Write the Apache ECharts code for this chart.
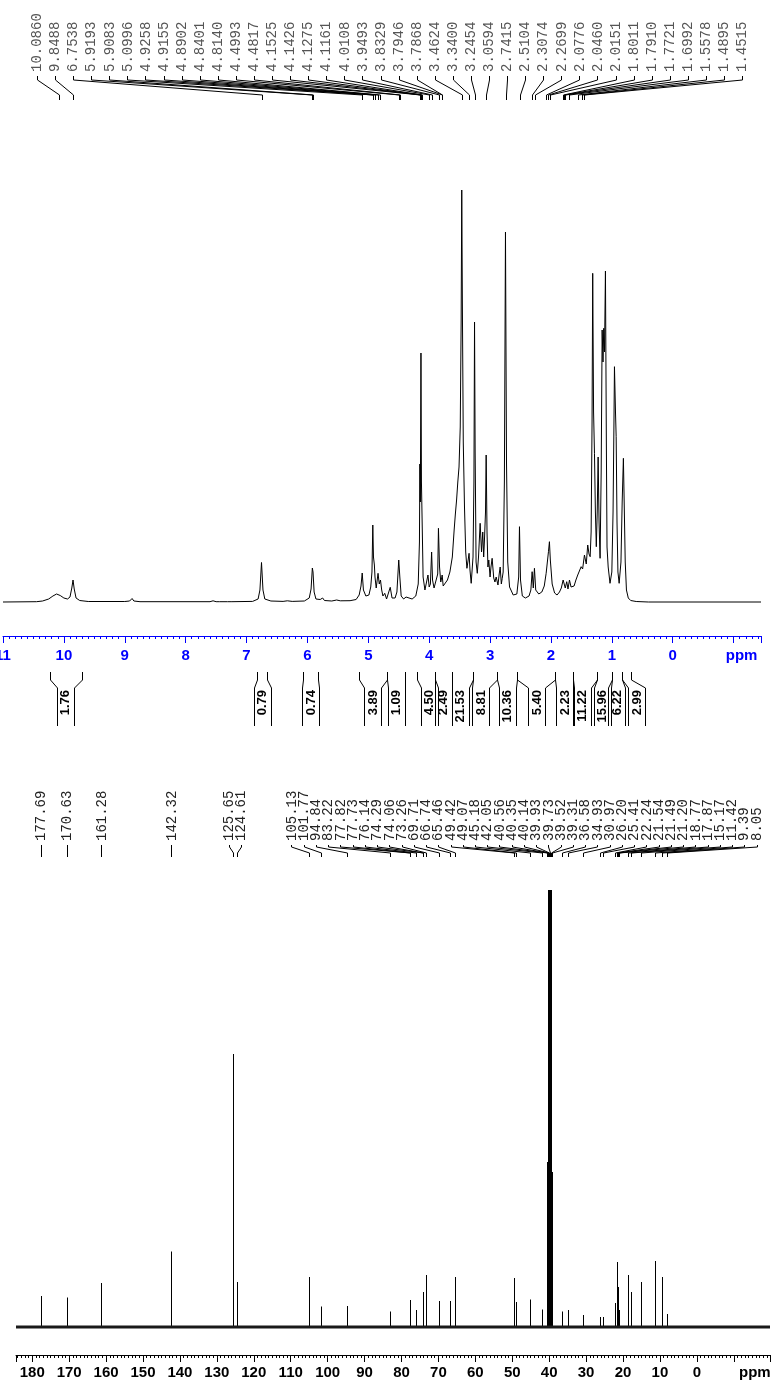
<!DOCTYPE html>
<html><head><meta charset="utf-8">
<script src="https://cdn.jsdelivr.net/npm/echarts@6/dist/echarts.min.js"></script>
<style>html,body{margin:0;padding:0;background:#fff}#c{width:772px;height:1384px}</style>
</head><body><div id="c"></div>
<script>
// ---------- DATA ----------
const H1_PEAK_LABELS = ['10.0860','9.8488','6.7538','5.9193','5.9083','5.0996','4.9258','4.9155','4.8902','4.8401','4.8140','4.4993','4.4817','4.1525','4.1426','4.1275','4.1161','4.0108','3.9493','3.8329','3.7946','3.7868','3.4624','3.3400','3.2454','3.0594','2.7415','2.5104','2.3074','2.2699','2.0776','2.0460','2.0151','1.8011','1.7910','1.7721','1.6992','1.5578','1.4895','1.4515'];

const H1_INT_VALUES = ['1.76','0.79','0.74','3.89','1.09','4.50','2.49','21.53','8.81','10.36','5.40','2.23','11.22','15.96','6.22','2.99'];
const H1_INT_FROM   = [10.23, 6.82, 6.07, 5.16, 4.69, 4.20, 3.90, 3.62, 3.28, 2.89, 2.56, 1.93, 1.64, 1.25, 1.00, 0.84];
const H1_INT_TO     = [ 9.70, 6.67, 5.82, 4.69, 4.39, 3.90, 3.62, 3.28, 2.89, 2.56, 1.93, 1.64, 1.25, 1.00, 0.84, 0.69];
const H1_INT_LABEL  = [ 9.98, 6.74, 5.95, 4.93, 4.54, 4.00, 3.77, 3.49, 3.15, 2.72, 2.23, 1.77, 1.49, 1.16, 0.92, 0.59];

// 1H trace: [ppm, intensity]
const H1_SPECTRUM = [[11.0,0],[10.45,0.3],[10.35,1],[10.25,3],[10.18,6],[10.12,8],[10.06,6.5],[10.0,4],[9.94,3],[9.90,5],[9.87,14],[9.85,22],[9.83,13],[9.80,4],[9.74,1.5],[9.6,0.5],[9.0,0.5],[8.92,1],[8.88,3.5],[8.85,1],[8.75,0.3],[7.6,0.3],[7.55,1.2],[7.5,0.3],[7.44,0.3],[7.41,1.2],[7.37,0.3],[7.31,0.3],[7.28,1.2],[7.24,0.3],[6.9,0.6],[6.81,3],[6.78,12],[6.754,39.5],[6.73,12],[6.70,3],[6.6,1],[6.4,0.6],[6.33,1.2],[6.25,0.6],[6.05,1],[5.97,4],[5.94,13],[5.919,34],[5.908,30],[5.89,10],[5.86,3],[5.79,2.5],[5.75,4],[5.72,1.5],[5.6,1],[5.52,2],[5.49,2.6],[5.46,1.2],[5.3,1.3],[5.2,2.5],[5.15,7],[5.12,16],[5.10,29],[5.08,12],[5.04,6],[4.99,7],[4.96,15],[4.94,30],[4.926,77],[4.915,45],[4.90,37],[4.89,25],[4.87,14],[4.84,28.7],[4.82,18],[4.80,22],[4.78,12],[4.76,6],[4.73,8.7],[4.70,3],[4.67,4],[4.64,14.7],[4.61,4],[4.56,4],[4.53,10],[4.50,42],[4.482,25],[4.46,6],[4.42,3],[4.38,5],[4.35,3],[4.28,3],[4.22,6],[4.18,18],[4.16,60],[4.153,138],[4.145,100],[4.135,249],[4.127,120],[4.116,82],[4.10,25],[4.07,12],[4.04,12],[4.02,27],[4.00,15],[3.98,18],[3.96,50],[3.945,22],[3.92,14],[3.89,16],[3.86,28],[3.848,73.7],[3.83,35],[3.81,20],[3.795,24],[3.787,27],[3.77,16],[3.74,16],[3.70,22],[3.66,30],[3.62,45],[3.59,72],[3.57,88],[3.55,102],[3.53,120],[3.51,135],[3.49,175],[3.475,280],[3.465,412],[3.455,300],[3.44,160],[3.42,95],[3.40,50],[3.38,33.7],[3.36,42],[3.345,48.7],[3.33,32],[3.31,18.7],[3.28,45],[3.265,120],[3.255,280],[3.245,150],[3.23,40],[3.21,28.7],[3.19,45],[3.163,78.7],[3.14,50],[3.12,70],[3.105,45],[3.092,62],[3.075,90],[3.064,147],[3.05,70],[3.035,35],[3.021,42],[3.00,25],[2.985,35],[2.966,43.7],[2.94,24],[2.92,20],[2.90,25],[2.87,17],[2.85,28],[2.834,35],[2.815,18],[2.80,23.7],[2.785,30],[2.765,120],[2.747,370],[2.73,140],[2.71,40],[2.68,15],[2.62,7],[2.56,8],[2.53,25],[2.517,75.3],[2.50,22],[2.47,6],[2.42,4],[2.36,6],[2.33,12],[2.309,30.3],[2.29,14],[2.271,33.7],[2.25,12],[2.20,8],[2.15,10],[2.11,16],[2.079,28.7],[2.06,30],[2.041,50.3],[2.025,60.3],[2.01,42],[1.98,18],[1.94,9],[1.90,7],[1.86,10],[1.83,14],[1.80,22],[1.79,23.7],[1.765,14],[1.741,20.3],[1.72,13],[1.696,22],[1.67,15],[1.642,13.7],[1.62,16],[1.59,22],[1.56,27],[1.53,26],[1.504,35.3],[1.48,33],[1.45,47],[1.42,38],[1.396,57],[1.375,48],[1.356,45.3],[1.34,70],[1.325,180],[1.314,328.7],[1.30,190],[1.285,148.7],[1.27,90],[1.255,55.3],[1.24,90],[1.225,145],[1.21,80],[1.193,43.7],[1.175,130],[1.159,272],[1.145,240],[1.133,273.7],[1.12,250],[1.105,331],[1.09,160],[1.079,55],[1.06,35],[1.03,18.7],[1.00,30],[0.98,90],[0.965,180],[0.957,235.3],[0.94,190],[0.929,165.3],[0.915,80],[0.90,30],[0.88,18.7],[0.85,40],[0.83,100],[0.81,143.7],[0.793,85],[0.78,40],[0.76,12],[0.73,4],[0.69,1.5],[0.6,0.5],[0.4,0],[-1.45,0]];

const C13_PEAK_LABELS = ['177.69','170.63','161.28','142.32','125.65','124.61','105.13','101.77','94.84','83.22','77.82','77.73','76.14','74.29','74.06','73.26','69.71','66.74','65.46','49.42','49.07','45.18','42.05','40.56','40.35','40.14','39.93','39.73','39.52','39.31','36.58','34.93','30.97','26.20','25.41','22.24','21.54','21.49','21.20','18.77','17.87','15.17','11.42','9.39','8.05'];
const C13_HEIGHTS = [31,29.5,44,75.5,273,45,50,20.5,21,15.5,27,22,17,14,35,52,26,26,50,49,25,27.5,17.5,165,450,900,1050,1050,900,155,15.5,17,12,10,10,24,65,40,17,52,35,45,66,50,13];

const H1_RANGE = [-1.45, 11];
const C13_RANGE = [-19.8, 184.4];

// ---------- LAYOUT HELPERS ----------
function spread(desired, gap, lo, hi) {
  let cl = desired.map(d => ({n: 1, sum: d}));
  const left = c => {
    let l = c.sum / c.n - (c.n - 1) * gap / 2;
    l = Math.min(l, hi - (c.n - 1) * gap);
    l = Math.max(l, lo);
    return l;
  };
  let merged = true;
  while (merged) {
    merged = false;
    for (let i = 0; i < cl.length - 1; i++) {
      const a = cl[i], b = cl[i + 1];
      if (left(a) + a.n * gap > left(b) + 1e-6) {
        cl.splice(i, 2, {n: a.n + b.n, sum: a.sum + b.sum});
        merged = true; break;
      }
    }
  }
  const out = [];
  cl.forEach(c => { const l = left(c); for (let k = 0; k < c.n; k++) out.push(l + k * gap); });
  return out;
}
const crisp = v => Math.round(v) + 0.5;

function peakLabelSeries(axisIdx, labels, cfg) {
  return {
    type: 'custom', xAxisIndex: axisIdx, yAxisIndex: axisIdx, clip: false, silent: true, z: 10,
    data: labels.map(s => [parseFloat(s), 0]),
    encode: {x: 0, y: 1},
    renderItem(params, api) {
      const desired = labels.map(s => api.coord([parseFloat(s), 0])[0]);
      const slots = spread(desired, cfg.gap, cfg.lo, cfg.hi);
      const i = params.dataIndex;
      const sx = crisp(slots[i]), px = crisp(desired[i]);
      return {type: 'group', children: [
        {type: 'text', x: slots[i] + 0.5, y: cfg.textY, rotation: Math.PI / 2,
          style: {text: labels[i], font: cfg.font, fill: cfg.color,
            align: 'left', verticalAlign: 'middle', textAlign: 'left', textVerticalAlign: 'middle'}},
        {type: 'polyline', shape: {points: [[sx, cfg.y0], [sx, cfg.y1], [px, cfg.y2], [px, cfg.y3]]},
          style: {stroke: '#000', lineWidth: 1, fill: null}}
      ]};
    }
  };
}

function axisCfg(idx, range, color, offset, margin, ppmPad) {
  return {
    type: 'value', gridIndex: idx, inverse: true, min: range[0], max: range[1],
    minInterval: idx === 0 ? 1 : 10, maxInterval: idx === 0 ? 1 : 10,
    position: 'bottom', offset: offset,
    axisLine: {show: true, onZero: false, lineStyle: {color: color, width: 1}},
    axisTick: {show: true, length: 7, lineStyle: {color: color, width: 1}},
    minorTick: {show: true, splitNumber: 10, length: 3, lineStyle: {color: color, width: 1}},
    splitLine: {show: false}, minorSplitLine: {show: false},
    axisLabel: {
      show: true, margin: margin, color: color, fontWeight: 'bold', fontSize: 15,
      fontFamily: '"Liberation Sans", Arial, sans-serif', showMinLabel: true, showMaxLabel: true,
      formatter: v => {
        const r = Math.round(v);
        if (Math.abs(v - r) > 1e-6) return '';
        if (r === (idx === 0 ? -1 : -10)) return '{p|ppm}';
        return String(r);
      },
      rich: {p: {color: color, fontWeight: 'bold', fontSize: 15,
        fontFamily: '"Liberation Sans", Arial, sans-serif', padding: [0, 0, 0, ppmPad]}}
    }
  };
}

const chart = echarts.init(document.getElementById('c'), null, {renderer: 'canvas'});
chart.setOption({
  animation: false,
  backgroundColor: '#ffffff',
  grid: [
    {left: 3, width: 758, top: 190, height: 416, containLabel: false, outerBoundsMode: 'none'},
    {left: 16, width: 754, top: 890, height: 442, containLabel: false, outerBoundsMode: 'none'}
  ],
  xAxis: [
    axisCfg(0, H1_RANGE, '#0000ff', 30, 12, 16),
    axisCfg(1, C13_RANGE, '#000000', 23, 10, 42)
  ],
  yAxis: [
    {type: 'value', gridIndex: 0, min: -4, max: 412, show: false},
    {type: 'value', gridIndex: 1, min: -5, max: 437, show: false}
  ],
  series: [
    {type: 'line', xAxisIndex: 0, yAxisIndex: 0, data: H1_SPECTRUM, showSymbol: false, symbol: 'none',
      lineStyle: {color: '#000', width: 1}, silent: true, clip: false},
    peakLabelSeries(0, H1_PEAK_LABELS, {gap: 18.08, lo: 37, hi: 742, textY: 72, y0: 76, y1: 80, y2: 95, y3: 100,
      font: '14px "Liberation Mono", "DejaVu Sans Mono", monospace', color: '#555'}),
    {
      type: 'custom', xAxisIndex: 0, yAxisIndex: 0, clip: false, silent: true,
      data: H1_INT_VALUES.map((v, i) => [H1_INT_FROM[i], H1_INT_TO[i], H1_INT_LABEL[i], 0]),
      encode: {x: [0, 1, 2], y: 3},
      renderItem(params, api) {
        const i = params.dataIndex;
        const xf = crisp(api.coord([api.value(0), 0])[0]);
        const xt = crisp(api.coord([api.value(1), 0])[0]);
        const cx = api.coord([api.value(2), 0])[0];
        const il = crisp(cx - 8.5), ir = crisp(cx + 8.5);
        const ls = {stroke: '#000', lineWidth: 1, fill: null};
        return {type: 'group', children: [
          {type: 'polyline', shape: {points: [[xf, 672], [xf, 680], [il, 688], [il, 726]]}, style: ls},
          {type: 'polyline', shape: {points: [[xt, 672], [xt, 680], [ir, 688], [ir, 726]]}, style: ls},
          {type: 'text', x: cx + 0.5, y: 690, rotation: Math.PI / 2,
            style: {text: H1_INT_VALUES[i], font: 'bold 13px "Liberation Sans", Arial, sans-serif', fill: '#000',
              align: 'right', verticalAlign: 'middle', textAlign: 'right', textVerticalAlign: 'middle'}}
        ]};
      }
    },
    {type: 'line', xAxisIndex: 1, yAxisIndex: 1, data: [[C13_RANGE[1], 0], [C13_RANGE[0], 0]], showSymbol: false,
      symbol: 'none', lineStyle: {color: '#1a1a1a', width: 3}, silent: true, clip: false},
    {
      type: 'custom', xAxisIndex: 1, yAxisIndex: 1, clip: true, silent: true,
      data: C13_PEAK_LABELS.map((s, i) => [parseFloat(s), C13_HEIGHTS[i]]),
      encode: {x: 0, y: 1},
      renderItem(params, api) {
        const p0 = api.coord([api.value(0), 0]);
        const p1 = api.coord([api.value(0), api.value(1)]);
        const x = crisp(p0[0]);
        return {type: 'line', shape: {x1: x, y1: p0[1], x2: x, y2: p1[1]}, style: {stroke: '#000', lineWidth: 1}};
      }
    },
    peakLabelSeries(1, C13_PEAK_LABELS, {gap: 12.24, lo: 30, hi: 757, textY: 841, y0: 845, y1: 847, y2: 853, y3: 857,
      font: '14px "Liberation Mono", "DejaVu Sans Mono", monospace', color: '#222'})
  ]
});
</script>
</body></html>
